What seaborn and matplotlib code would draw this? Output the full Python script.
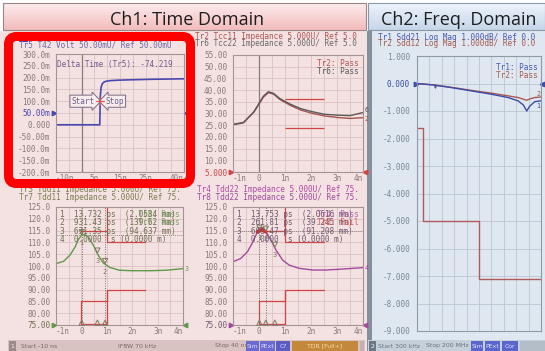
import numpy as np
import matplotlib
matplotlib.use("Agg")
import matplotlib.pyplot as plt
from matplotlib.patches import Rectangle, FancyBboxPatch
import seaborn as sns

# ---------------- data ----------------
# Ch1 / Tr5 : T42 step response (ns, mV)
tr5_time_ns = [-10, 7.1, 7.3, 7.6, 8.0, 8.6, 9.4, 11, 14, 20, 28, 35, 40]
tr5_volt_mv = [0, 0, 120, 158, 172, 180, 184, 187, 189, 191, 193, 194, 195]
tr5_start_ns = 7.25
tr5_delta_ps = -74.219
tr5_marker_mv = 100
tr5_ref_mv = 50

# Ch1 / Tr2, Tr6 : common-mode impedance (ns, ohm)
tcc_time_ns = [-1, -0.6, -0.2, 0, 0.17, 0.36, 0.56, 0.8, 1.2, 1.6, 2.0, 2.5, 3.0, 3.5, 4.0]
tr2_tcc11_ohm = [25.4, 26.2, 30.5, 34.0, 37.0, 38.9, 38.3, 36.0, 33.5, 31.5, 30.2, 29.0, 28.3, 27.9, 28.2]
tr6_tcc22_ohm = [25.2, 26.0, 30.7, 34.3, 37.4, 39.3, 38.6, 36.4, 34.0, 32.1, 30.9, 29.7, 29.3, 29.1, 30.4]
tcc_limit_ns = [1.0, 2.5]
tcc_upper_ohm = 36
tcc_lower_ohm = 24
tcc_ref_ohm = 5

# Ch1 / Tr3 : differential impedance Tdd11 (ns, ohm)
tdd11_time_ns = [-1, -0.7, -0.45, -0.25, -0.12, 0.0, 0.14, 0.27, 0.47, 0.66, 0.86, 1.12, 1.5, 2.0, 2.7, 3.35, 4.0]
tr3_tdd11_ohm = [101.0, 102.0, 104.6, 108.0, 111.2, 113.0, 113.3, 112.3, 108.8, 104.6, 101.3, 99.4, 98.2, 98.0, 98.0, 98.2, 98.9]
tdd11_marker_ps = [13.732, 931.43, 631.35]
tdd11_marker_mm = [2.0584, 139.62, 94.637]

# Ch1 / Tr4 : differential impedance Tdd22 (ns, ohm)
tdd22_time_ns = [-1, -0.7, -0.44, -0.25, -0.06, 0.1, 0.26, 0.46, 0.65, 0.91, 1.16, 1.55, 2.07, 2.6, 3.2, 4.0]
tr4_tdd22_ohm = [101.8, 103.2, 106.1, 109.9, 114.5, 115.6, 114.5, 111.0, 106.8, 102.5, 100.4, 99.0, 98.3, 98.3, 98.7, 99.3]
tdd22_marker_ps = [13.753, 261.81, 608.47]
tdd22_marker_mm = [2.0616, 39.245, 91.208]

# Tdd limit lines
tdd_limit_ns = [0, 1, 1, 2.5]
tdd_upper_ohm = [115, 115, 110, 110]
tdd_lower_ohm = [85, 85, 90, 90]
tdd_ref_ohm = 75

# Ch2 : Sdd21 / Sdd12 insertion loss (MHz, dB)
freq_mhz = [0.3, 10, 29, 30, 31, 56, 88, 120, 147, 163, 171.5, 177, 182, 190, 200]
sdd21_db = [0.0, -0.02, -0.06, -0.16, -0.07, -0.15, -0.27, -0.39, -0.51, -0.63, -0.78, -1.0, -0.82, -0.66, -0.63]
sdd12_db = [0.0, -0.02, -0.05, -0.05, -0.06, -0.14, -0.25, -0.35, -0.45, -0.51, -0.57, -0.61, -0.56, -0.51, -0.49]
sdd_limit_mhz = [0.3, 10, 10, 100, 100, 200]
sdd_limit_db = [-1.6, -1.6, -5, -5, -7.1, -7.1]

# ---------------- style ----------------
sns.set_style("white")
plt.rcParams["font.family"] = ["DejaVu Sans Mono"]

W, H = 545, 351
fig = plt.figure(figsize=(W / 100, H / 100), dpi=100)

CH1_BG = "#f4e1e1"
CH1_GRID = "#dcc3c3"
CH1_SPINE = "#a49494"
CH1_TICK = "#8a7a7a"
CH2_BG = "#dfe7f0"
CH2_GRID = "#bac6d2"
CH2_SPINE = "#8e9aa6"
CH2_TICK = "#7a8694"
LIMIT = "#d04444"
FS = 5.6


def px_axes(l, t, r, b, **kw):
    return fig.add_axes([l / W, 1 - b / H, (r - l) / W, (b - t) / H], **kw)


def style(ax, face, grid, spine, tick):
    ax.set_facecolor(face)
    ax.grid(True, color=grid, linewidth=0.6)
    ax.set_axisbelow(True)
    for s in ax.spines.values():
        s.set_visible(True)
        s.set_color(spine)
        s.set_linewidth(0.8)
    ax.tick_params(length=0, labelsize=FS, labelcolor=tick)
    ax.tick_params(axis="y", pad=4.2)
    ax.tick_params(axis="x", pad=1.5)
    ax.set_xlabel("")
    ax.set_ylabel("")


def set_ticks(ax, xt, xl, yt, yl):
    ax.set_xticks(xt)
    ax.set_xticklabels(xl)
    ax.set_yticks(yt)
    ax.set_yticklabels(yl)
    labs = ax.get_xticklabels()
    labs[0].set_ha("left")
    labs[-1].set_ha("right")


def ref_arrows(ax, level, color, label_idx=None):
    tr = ax.get_yaxis_transform()
    ax.plot([-0.012], [level], marker=">", ms=3.2, color=color, transform=tr, clip_on=False)
    ax.plot([1.012], [level], marker="<", ms=3.2, color=color, transform=tr, clip_on=False)
    if label_idx is not None:
        ax.get_yticklabels()[label_idx].set_color(color)


def trace_tag(ax, text, y, color, x=1.015, ha="left"):
    ax.text(x, y, text, transform=ax.get_yaxis_transform(), fontsize=4.8,
            color=color, va="center", ha=ha, clip_on=False)


# ---------------- background / frames ----------------
bg = px_axes(0, 0, W, H, zorder=-5)
bg.axis("off")
bg.add_patch(Rectangle((0, 31), 367, 320, fc=CH1_BG, ec="none"))
bg.add_patch(Rectangle((367, 31), 5, 320, fc="#84909e", ec="none"))
bg.add_patch(Rectangle((372, 31), 173, 320, fc=CH2_BG, ec="none"))

grad = np.linspace(0, 1, 40)[:, None]
bg.imshow(grad, extent=(3, 366, 30, 3), cmap=matplotlib.colors.LinearSegmentedColormap.from_list(
    "c1", ["#fdecec", "#f3bcbc"]), aspect="auto", zorder=1)
bg.imshow(grad, extent=(368, 545, 30, 3), cmap=matplotlib.colors.LinearSegmentedColormap.from_list(
    "c2", ["#eef4fb", "#c6d6ea"]), aspect="auto", zorder=1)
bg.add_patch(Rectangle((3, 3), 363, 27, fc="none", ec="#9a8888", lw=0.8, zorder=2))
bg.add_patch(Rectangle((368, 3), 177, 27, fc="none", ec="#8a98a8", lw=0.8, zorder=2))
bg.text(187, 25, "Ch1: Time Domain", family="Open Sans", fontsize=13, ha="center",
        va="baseline", color="#1e1e1e", zorder=3)
bg.text(459, 25, "Ch2: Freq. Domain", family="Open Sans", fontsize=13, ha="center",
        va="baseline", color="#1e1e1e", zorder=3)

# status bars
bg.add_patch(Rectangle((8, 340), 357, 11, fc="#d8c2c2", ec="none"))
bg.add_patch(Rectangle((368, 340), 177, 11, fc="#c6d0da", ec="none"))
SFS = 4.4


def sbox(x0, x1, text, fc, tc):
    bg.add_patch(Rectangle((x0, 341), x1 - x0, 9.5, fc=fc, ec="none", zorder=2))
    bg.text((x0 + x1) / 2, 346, text, fontsize=SFS, family="DejaVu Sans", color=tc,
            ha="center", va="center", zorder=3)


def stext(x, text, color):
    bg.text(x, 346, text, fontsize=SFS, family="DejaVu Sans", color=color, ha="left",
            va="center", zorder=3)


sbox(9, 16, "1", "#9c8a8a", "#f4eaea")
stext(21, "Start %g ns" % tr5_time_ns[0], "#7c6666")
stext(118, "IFBW 70 kHz", "#7c6666")
stext(215, "Stop %g ns" % tr5_time_ns[-1], "#7c6666")
sbox(246, 259, "Sim", "#6a6ad0", "#dcdcff")
sbox(260, 275, "PExt", "#6a6ad0", "#dcdcff")
sbox(276, 290, "C?", "#5c5cc4", "#dcdcff")
sbox(292, 358, "TDR [Full+]", "#c4883c", "#f6dcaa")
sbox(360, 364, "", "#c4b0b0", "#ffffff")
sbox(369, 376, "2", "#6c7886", "#eef2f6")
stext(378, "Start 300 kHz", "#6a7482")
stext(426, "Stop %g MHz" % freq_mhz[-1], "#6a7482")
sbox(471, 483, "Sim", "#5a66cc", "#dce0ff")
sbox(485, 500, "PExt", "#5a66cc", "#dce0ff")
sbox(502, 518, "Cor", "#5a66cc", "#dce0ff")
sbox(520, 545, "", "#b4bec8", "#ffffff")
bg.set_xlim(0, W)
bg.set_ylim(H, 0)

# ---------------- panel A : Tr5 step ----------------
axA = px_axes(56, 54, 184, 172)
style(axA, CH1_BG, CH1_GRID, CH1_SPINE, CH1_TICK)
axA.set_xlim(-10, 40)
axA.set_ylim(-200, 300)
a_xt = list(range(-10, 41, 5))
a_xl = {-10: "-10n", 5: "5n", 15: "15n", 25: "25n", 40: "40n"}
a_yt = list(range(-200, 301, 50))
a_yl = ["-200.0m", "-150.0m", "-100.0m", "-50.00m", "0.000", "50.00m",
        "100.0m", "150.0m", "200.0m", "250.0m", "300.0m"]
set_ticks(axA, a_xt, [a_xl.get(v, "") for v in a_xt], a_yt, a_yl)
axA.axvline(0, color="#8c7c7c", lw=0.9, zorder=1)
sns.lineplot(x=tr5_time_ns, y=tr5_volt_mv, ax=axA, color="#4848b0", lw=1.2,
             estimator=None, sort=False, legend=False)
axA.set_xlabel(""); axA.set_ylabel("")
ref_arrows(axA, tr5_ref_mv, "#4848b0", a_yt.index(tr5_ref_mv))
stop_ns = tr5_start_ns + tr5_delta_ps / 1000
axA.scatter([tr5_start_ns, stop_ns], [tr5_marker_mv] * 2, marker="+", s=30,
            color="#e05050", lw=0.8, zorder=5)
box = dict(fc="#f8eded", ec="#7a6a86", lw=0.7)
axA.annotate("Start", xy=(tr5_start_ns, tr5_marker_mv), xytext=(-4, 0),
             textcoords="offset points", ha="right", va="center", fontsize=FS,
             color="#6e5e8a", bbox=dict(boxstyle="rarrow,pad=0.2", **box))
axA.annotate("Stop", xy=(stop_ns, tr5_marker_mv), xytext=(4, 0),
             textcoords="offset points", ha="left", va="center", fontsize=FS,
             color="#6e5e8a", bbox=dict(boxstyle="larrow,pad=0.2", **box))
axA.text(0.01, 0.915, "Delta Time (Tr5): %.3f" % tr5_delta_ps, transform=axA.transAxes,
         fontsize=FS, color="#6e5e90", va="center", clip_on=True)

# ---------------- panel B : Tcc ----------------
axB = px_axes(233, 55, 363, 172)
style(axB, CH1_BG, CH1_GRID, CH1_SPINE, CH1_TICK)
axB.set_xlim(-1, 4)
axB.set_ylim(5, 55)
ns_xt = list(np.arange(-1, 4.01, 0.5))
ns_xl = ["-1n", "", "0", "", "1n", "", "2n", "", "3n", "", "4n"]
b_yt = list(range(5, 56, 5))
b_yl = ["5.000"] + ["%.2f" % v for v in b_yt[1:]]
set_ticks(axB, ns_xt, ns_xl, b_yt, b_yl)
axB.axvline(0, color="#8c7c7c", lw=0.9, zorder=1)
axB.hlines([tcc_upper_ohm, tcc_lower_ohm], tcc_limit_ns[0], tcc_limit_ns[1],
           color=LIMIT, lw=0.9, zorder=2)
sns.lineplot(x=tcc_time_ns, y=tr2_tcc11_ohm, ax=axB, color="#a8524e", lw=1.0,
             estimator=None, sort=False, legend=False)
sns.lineplot(x=tcc_time_ns, y=tr6_tcc22_ohm, ax=axB, color="#5a5a5a", lw=1.0,
             estimator=None, sort=False, legend=False)
axB.set_xlabel(""); axB.set_ylabel("")
ref_arrows(axB, tcc_ref_ohm, "#d04444", 0)
trace_tag(axB, "6", tr6_tcc22_ohm[-1] + 1.0, "#5a5a5a")
trace_tag(axB, "2", tr2_tcc11_ohm[-1] - 0.6, "#a8524e")
axB.text(0.97, 0.925, "Tr2: Pass", transform=axB.transAxes, fontsize=FS,
         color="#b05656", ha="right", va="center")
axB.text(0.97, 0.86, "Tr6: Pass", transform=axB.transAxes, fontsize=FS,
         color="#5a5a5a", ha="right", va="center")


# ---------------- panels C, D : Tdd ----------------
def tdd_panel(ax, t, z, col, tcol, markers_ps, markers_mm, tag, pass_lbl, pass2_lbl, pass2_col):
    style(ax, CH1_BG, CH1_GRID, CH1_SPINE, CH1_TICK)
    ax.set_xlim(-1, 4)
    ax.set_ylim(75, 125)
    yt = list(range(75, 126, 5))
    yl = ["%.2f" % v if v < 100 else "%.1f" % v for v in yt]
    set_ticks(ax, ns_xt, ns_xl, yt, yl)
    lo = ax.get_ylim()[0]
    hi = ax.get_ylim()[1]
    # limit lines
    ax.plot(tdd_limit_ns, tdd_upper_ohm, color=LIMIT, lw=0.9, zorder=2)
    ax.plot(tdd_limit_ns, tdd_lower_ohm, color=LIMIT, lw=0.9, zorder=2)
    ax.vlines(tdd_limit_ns[1], tdd_upper_ohm[0], hi, color=LIMIT, lw=0.9, zorder=2)
    ax.vlines(tdd_limit_ns[0], lo, tdd_lower_ohm[0], color=LIMIT, lw=0.9, zorder=2)
    ax.vlines(tdd_limit_ns[2], lo, tdd_lower_ohm[2], color=LIMIT, lw=0.9, zorder=2)
    ax.hlines(lo + 0.3, tdd_limit_ns[0], tdd_limit_ns[1], color=LIMIT, lw=0.9, zorder=2)
    # marker guides
    mk_ns = [p / 1000 for p in markers_ps]
    mk_z = np.interp(mk_ns, t, z)
    ax.vlines(mk_ns[:2], lo, hi, color="#7a6e6e", lw=0.7, linestyles=(0, (1, 1.5)), zorder=2)
    ax.axhline(mk_z[0], color="#7a6e6e", lw=0.6, ls=(0, (1, 1.5)), zorder=2)
    sns.lineplot(x=t, y=z, ax=ax, color=col, lw=1.0, estimator=None, sort=False, legend=False)
    ax.set_xlabel(""); ax.set_ylabel("")
    for i, (mx, mz) in enumerate(zip(mk_ns, mk_z)):
        ax.scatter([mx], [mz + 1.3], marker="v", s=14, facecolors="none",
                   edgecolors="#7e7a62", lw=0.7, zorder=6)
        ax.text(mx, mz - 3.2, str(i + 1), fontsize=5, color="#7e7a62", ha="center",
                va="center", zorder=6)
        ax.scatter([mx], [lo + 1.0], marker="^", s=14, facecolors="none",
                   edgecolors="#7e7a62", lw=0.7, zorder=6, clip_on=False)
    ref_arrows(ax, tdd_ref_ohm, col, 0)
    ax.get_yticklabels()[0].set_color(tcol)
    trace_tag(ax, tag, z[-1], col)
    # marker table
    rows = ["%d  %6s ps  (%s mm)" % (i + 1, "%.5g" % p, "%.5g" % m)
            for i, (p, m) in enumerate(zip(markers_ps, markers_mm))]
    rows.append("4  0.0000  s (0.0000 m)")
    for k, r in enumerate(rows):
        ax.text(0.03, 0.975 - k * 0.072, r, transform=ax.transAxes, fontsize=FS,
                color=tcol, va="top", ha="left", zorder=7)
    ax.text(0.97, 0.975, pass_lbl, transform=ax.transAxes, fontsize=FS, color=col,
            va="top", ha="right", zorder=7, alpha=0.8)
    ax.text(0.97, 0.903, pass2_lbl, transform=ax.transAxes, fontsize=FS, color=pass2_col,
            va="top", ha="right", zorder=7, alpha=0.8)
    return mk_z


axC = px_axes(56, 207, 183, 325)
tdd_panel(axC, tdd11_time_ns, tr3_tdd11_ohm, "#5e9a48", "#6e6e52", tdd11_marker_ps,
          tdd11_marker_mm, "3", "Tr3: Pass", "Tr7: Pass", "#5e9a48")

axD = px_axes(233, 207, 363, 325)
tdd_panel(axD, tdd22_time_ns, tr4_tdd22_ohm, "#a44a9e", "#6e5a6e", tdd22_marker_ps,
          tdd22_marker_mm, "4", "Tr4: Pass", "Tr8: Fail", "#e03c3c")
# portion of Tr4 over the upper limit
t4 = np.array(tdd22_time_ns)
z4 = np.array(tr4_tdd22_ohm)
over = z4 >= tdd_upper_ohm[0] - 0.5
axD.plot(t4[over], z4[over], color="#e02828", lw=2.6, solid_capstyle="round", zorder=5)

# ---------------- panel E : Sdd ----------------
axE = px_axes(417, 56, 541, 331)
style(axE, CH2_BG, CH2_GRID, CH2_SPINE, CH2_TICK)
axE.set_xlim(freq_mhz[0], freq_mhz[-1])
axE.set_ylim(-9, 1)
axE.set_xticks(np.linspace(freq_mhz[0], freq_mhz[-1], 11))
axE.set_xticklabels([])
e_yt = list(range(-9, 2))
axE.set_yticks(e_yt)
axE.set_yticklabels(["%.3f" % v for v in e_yt])
axE.tick_params(axis="y", pad=5)
axE.plot(sdd_limit_mhz, sdd_limit_db, color="#b05a5a", lw=1.0, zorder=2)
sns.lineplot(x=freq_mhz, y=sdd12_db, ax=axE, color="#a85a50", lw=1.0,
             estimator=None, sort=False, legend=False)
sns.lineplot(x=freq_mhz, y=sdd21_db, ax=axE, color="#3c4ca8", lw=1.0,
             estimator=None, sort=False, legend=False)
axE.set_xlabel(""); axE.set_ylabel("")
ref_arrows(axE, 0, "#3c4ca8", e_yt.index(0))
trace_tag(axE, "2", sdd12_db[-1] + 0.12, "#a85a50", x=0.995, ha="right")
trace_tag(axE, "1", sdd21_db[-1] - 0.2, "#3c4ca8", x=0.995, ha="right")
axE.text(0.97, 0.975, "Tr1: Pass", transform=axE.transAxes, fontsize=FS,
         color="#4a5ab4", ha="right", va="top")
axE.text(0.97, 0.945, "Tr2: Pass", transform=axE.transAxes, fontsize=FS,
         color="#a85a50", ha="right", va="top")

# ---------------- trace headers / overlay ----------------
top = px_axes(0, 0, W, H, zorder=20)
top.axis("off")


def header(x, y, text, color):
    top.text(x, y, text, fontsize=FS, color=color, ha="left", va="center")


top.add_patch(Rectangle((19, 40.5), 9, 1.6, fc="#3c3cc8", ec="none"))
header(19, 45, "Tr5 T42 Volt 50.00mU/ Ref 50.00mU", "#6a6aa4")
header(195, 36.5, "Tr2 Tcc11 Impedance 5.000U/ Ref 5.0", "#b05656")
header(195, 43.5, "Tr6 Tcc22 Impedance 5.000U/ Ref 5.0", "#6a6a6a")
header(19, 190, "Tr3 Tdd11 Impedance 5.000U/ Ref 75.", "#7a7e50")
header(19, 197, "Tr7 Tdd11 Impedance 5.000U/ Ref 75.", "#7a7e50")
header(197, 190, "Tr4 Tdd22 Impedance 5.000U/ Ref 75.", "#b04aa6")
header(197, 197, "Tr8 Tdd22 Impedance 5.000U/ Ref 75.", "#9c4a9c")
header(378, 37, "Tr1 Sdd21 Log Mag 1.000dB/ Ref 0.0", "#4a5ab4")
header(378, 44, "Tr2 Sdd12 Log Mag 1.000dB/ Ref 0.0", "#a85a50")

# highlight frame around the step-response panel
top.add_patch(FancyBboxPatch((8.5, 36.5), 182, 147, boxstyle="round,pad=0,rounding_size=8",
                             fc="none", ec="#ff0000", lw=6.5, zorder=10))
top.set_xlim(0, W)
top.set_ylim(H, 0)

fig.savefig("out.png", dpi=100)
